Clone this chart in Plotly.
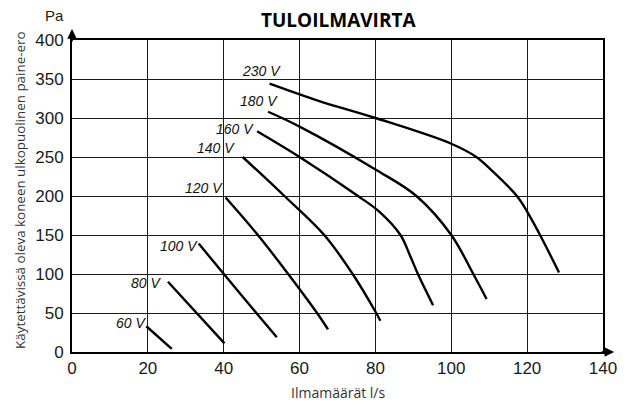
import plotly.graph_objects as go

# Data (airflow l/s, pressure Pa)
labels = ["60 V", "80 V", "100 V", "120 V", "140 V", "160 V", "180 V", "230 V"]
flow_60 = [19.6, 26.3]
pa_60 = [33, 4]
flow_80 = [25.3, 40.2]
pa_80 = [90, 11]
flow_100 = [33.4, 40.2, 48.6, 54.0]
pa_100 = [139, 99, 50, 19]
flow_120 = [40.5, 49.0, 57.0, 64.6, 67.5]
pa_120 = [198, 150, 100, 50, 29]
flow_140 = [45.0, 56.0, 66.5, 74.0, 80.2, 81.3]
pa_140 = [250, 200, 150, 100, 50, 40]
flow_160 = [48.8, 60.0, 75.4, 81.0, 86.6, 89.0, 91.2, 95.2]
pa_160 = [283, 250, 200, 180, 150, 125, 100, 60]
flow_180 = [51.7, 60.0, 80.0, 90.8, 100.0, 105.8, 109.3]
pa_180 = [308, 289, 234, 200, 150, 100, 68]
flow_230 = [52.1, 65.0, 80.0, 100.0, 106.6, 110.6, 117.3, 120.0, 123.4, 128.4]
pa_230 = [344, 322, 300, 267, 250, 233, 200, 180, 150, 102]

x_ticks = [0, 20, 40, 60, 80, 100, 120, 140]
y_ticks = [0, 50, 100, 150, 200, 250, 300, 350, 400]

series = [
    (flow_60, pa_60), (flow_80, pa_80), (flow_100, pa_100), (flow_120, pa_120),
    (flow_140, pa_140), (flow_160, pa_160), (flow_180, pa_180), (flow_230, pa_230),
]
# label offsets (pixels) relative to each curve's first point
label_shift = [(2, 3), (-5, -1), (1, -2), (-1, 10), (-6, 9), (-1, 2), (12, 11), (13, 13)]

fig = go.Figure()
for (xs, ys), name in zip(series, labels):
    fig.add_trace(go.Scatter(
        x=xs, y=ys, mode="lines", name=name,
        line=dict(color="black", width=2.4, shape="spline", smoothing=1.0),
        hoverinfo="skip", showlegend=False,
    ))

for (xs, ys), name, (dx, dy) in zip(series, labels, label_shift):
    fig.add_annotation(
        x=xs[0], y=ys[0], text="<i>" + name + "</i>", showarrow=False,
        xanchor="right", yanchor="middle", xshift=dx, yshift=dy,
        font=dict(family="Liberation Sans", size=14, color="#111"),
    )

axis_common = dict(
    showgrid=True, gridcolor="#1a1a1a", gridwidth=1.4,
    showline=True, linecolor="black", linewidth=2, mirror=True,
    zeroline=False, ticks="",
    tickfont=dict(family="Liberation Sans", size=17, color="#1a1a1a"),
    fixedrange=True,
)

fig.update_xaxes(range=[0, 140], tickvals=x_ticks, ticklabelstandoff=0, **axis_common)
fig.update_yaxes(range=[0, 400], tickvals=y_ticks, ticklabelstandoff=3, **axis_common)

# axis arrows
fig.add_annotation(xref="paper", yref="paper", x=0, y=1.035, ax=0, ay=14,
                   showarrow=True, arrowhead=2, arrowsize=1.2, arrowwidth=1.6,
                   arrowcolor="black", text="")
fig.add_annotation(xref="paper", yref="paper", x=1.021, y=0, ax=-14, ay=0,
                   showarrow=True, arrowhead=2, arrowsize=1.2, arrowwidth=1.6,
                   arrowcolor="black", text="")

# titles
fig.add_annotation(xref="paper", yref="paper", x=0.502, y=1.0, yshift=20,
                   text="<b>TULOILMAVIRTA</b>", showarrow=False,
                   xanchor="center", yanchor="middle",
                   font=dict(family="Open Sans", size=19, color="black"))
fig.add_annotation(xref="paper", yref="paper", x=-0.033, y=1.0, yshift=25,
                   text="Pa", showarrow=False, xanchor="center", yanchor="middle",
                   font=dict(family="Liberation Sans", size=15, color="#1a1a1a"))
fig.add_annotation(xref="paper", yref="paper", x=-0.097, y=0.518,
                   text="Käytettävissä oleva koneen ulkopuolinen paine-ero",
                   showarrow=False, textangle=-90, xanchor="center", yanchor="middle",
                   font=dict(family="Open Sans", size=13.4, color="#333"))
fig.add_annotation(xref="paper", yref="paper", x=0.502, y=0, yshift=-40,
                   text="Ilmamäärät l/s", showarrow=False,
                   xanchor="center", yanchor="middle",
                   font=dict(family="Open Sans", size=14, color="#333"))

# the page body adds an 8px offset; margins place the plot where the reference has it
fig.update_layout(
    width=631, height=405,
    margin=dict(l=64, r=36, t=32, b=61),
    paper_bgcolor="white", plot_bgcolor="white",
    showlegend=False,
)

fig.write_html("out.html")
